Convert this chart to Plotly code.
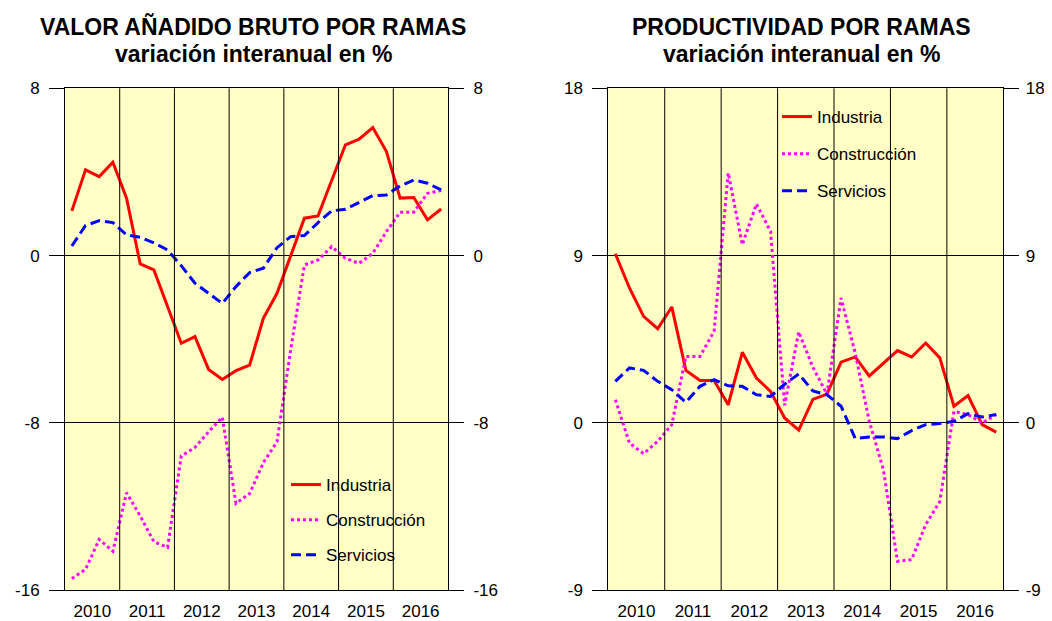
import plotly.graph_objects as go

years = [2010, 2011, 2012, 2013, 2014, 2015, 2016]
quarters = [f"{y}-T{q}" for y in years for q in range(1, 5)]

# Valor añadido bruto por ramas (variación interanual %)
vab_industria = [2.14, 4.1, 3.78, 4.47, 2.75, -0.4, -0.68, -2.44, -4.19, -3.87, -5.44, -5.92, -5.5, -5.23,
                 -3.0, -1.8, 0.0, 1.79, 1.9, 3.6, 5.3, 5.57, 6.12, 4.98, 2.75, 2.78, 1.71, 2.23]
vab_construccion = [-15.44, -15.0, -13.57, -14.13, -11.34, -12.45, -13.68, -13.95, -9.58, -9.17, -8.42, -7.73,
                    -11.85, -11.37, -9.9, -8.9, -4.5, -0.45, -0.21, 0.43, -0.13, -0.37, 0.11, 1.15, 2.08, 2.08,
                    2.98, 3.11]
vab_servicios = [0.46, 1.44, 1.67, 1.58, 0.99, 0.88, 0.61, 0.27, -0.48, -1.32, -1.8, -2.28, -1.48, -0.81,
                 -0.6, 0.38, 0.91, 0.96, 1.58, 2.14, 2.22, 2.54, 2.87, 2.9, 3.33, 3.62, 3.46, 3.14]

# Productividad por ramas (variación interanual %)
prod_industria = [9.1, 7.26, 5.73, 5.07, 6.24, 2.83, 2.29, 2.29, 0.98, 3.8, 2.42, 1.7, 0.27, -0.38,
                  1.27, 1.55, 3.27, 3.55, 2.53, 3.23, 3.89, 3.55, 4.3, 3.5, 0.9, 1.47, -0.09, -0.49]
prod_construccion = [1.25, -1.08, -1.65, -0.99, -0.09, 3.58, 3.58, 4.93, 13.45, 9.59, 11.78, 10.31, 0.95,
                     4.9, 3.0, 1.55, 6.72, 3.77, 0.09, -2.51, -7.44, -7.35, -5.47, -4.22, 0.62, 0.45, 0.0, 0.45]
prod_servicios = [2.24, 2.96, 2.83, 2.24, 1.79, 1.11, 1.97, 2.33, 2.0, 1.97, 1.52, 1.43, 2.08, 2.64,
                  1.72, 1.52, 0.9, -0.83, -0.75, -0.75, -0.84, -0.41, -0.09, -0.03, 0.09, 0.5, 0.32, 0.45]

series_names = ["Industria", "Construcción", "Servicios"]
series_colors = ["#FF0000", "#FF00FF", "#0000FF"]
series_dash = ["solid", "3px,3px", "10px,5px"]

left_ticks = [-16, -8, 0, 8]
right_ticks = [-9, 0, 9, 18]

FONT = "Liberation Sans, Arial, sans-serif"
x = list(range(len(quarters)))

# page offset (browser body margin) compensation
OX, OY = 8, 8
W, H = 1052 - OX, 621 - OY


def px(v):
    return (v - OX) / W


def py(v):
    return 1 - (v - OY) / H


fig = go.Figure()

for vals, name, col, dash, i in zip([vab_industria, vab_construccion, vab_servicios],
                                    series_names, series_colors, series_dash, range(3)):
    fig.add_trace(go.Scatter(x=x, y=vals, name=name, mode="lines", xaxis="x", yaxis="y",
                             line=dict(color=col, width=3, dash=dash), legend="legend",
                             legendgroup=f"l{i}", hovertext=quarters))
for vals, name, col, dash, i in zip([prod_industria, prod_construccion, prod_servicios],
                                    series_names, series_colors, series_dash, range(3)):
    fig.add_trace(go.Scatter(x=x, y=vals, name=name, mode="lines", xaxis="x2", yaxis="y3",
                             line=dict(color=col, width=3, dash=dash), legend="legend2",
                             legendgroup=f"r{i}", hovertext=quarters))

# empty traces so that the right-hand mirror axes are drawn
for xa, ya in [("x", "y2"), ("x2", "y4")]:
    fig.add_trace(go.Scatter(x=[], y=[], xaxis=xa, yaxis=ya, showlegend=False, hoverinfo="skip"))

ytop = py(88.3)
ybot = py(590.3)
dom_left = [px(65), px(448)]
dom_right = [px(608.3), px(1003.3)]

tickfont = dict(family=FONT, size=17, color="black")
label_pos = [4 * i + 1.5 for i in range(len(years))]


def xax(dom, anchor):
    return dict(domain=dom, anchor=anchor, range=[-0.5, len(quarters) - 0.5], tickmode="array",
                tickvals=label_pos, ticktext=[str(y) for y in years], ticks="", showgrid=False,
                zeroline=False, showline=True, mirror=True, linecolor="black", linewidth=1,
                tickfont=tickfont, ticklabelstandoff=5, automargin=False, fixedrange=True)


def yax(rng, tv, anchor, side="left", overlay=None, grid=True, standoff=6):
    d = dict(domain=[ybot, ytop], anchor=anchor, range=rng, tickmode="array", tickvals=tv,
             ticktext=[str(v) for v in tv], ticks="outside", ticklen=15, tickwidth=1, tickcolor="black",
             showgrid=grid, gridcolor="black", gridwidth=1, zeroline=False, side=side,
             showline=True, linecolor="black", linewidth=1, tickfont=tickfont,
             ticklabelstandoff=standoff, automargin=False, fixedrange=True)
    if overlay:
        d["overlaying"] = overlay
    return d


fig.update_layout(
    width=W, height=H, autosize=False,
    margin=dict(l=0, r=0, t=0, b=0),
    paper_bgcolor="white", plot_bgcolor="#FFFFC6",
    font=dict(family=FONT, color="black"),
    xaxis=xax(dom_left, "y"),
    yaxis=yax([left_ticks[0], left_ticks[-1]], left_ticks, "x"),
    yaxis2=yax([left_ticks[0], left_ticks[-1]], left_ticks, "x", side="right", overlay="y", grid=False),
    xaxis2=xax(dom_right, "y3"),
    yaxis3=yax([right_ticks[0], right_ticks[-1]], right_ticks, "x2"),
    yaxis4=yax([right_ticks[0], right_ticks[-1]], right_ticks, "x2", side="right", overlay="y3",
               grid=False, standoff=3),
    legend=dict(x=px(286), y=py(467), xanchor="left", yanchor="top", bgcolor="rgba(0,0,0,0)",
                font=dict(family=FONT, size=17, color="black"), tracegroupgap=10, traceorder="grouped"),
    legend2=dict(x=px(777), y=py(99), xanchor="left", yanchor="top", bgcolor="rgba(0,0,0,0)",
                 font=dict(family=FONT, size=17, color="black"), tracegroupgap=12, traceorder="grouped"),
    showlegend=True,
)

# year separators
for b in [4 * i - 0.5 for i in range(1, len(years))]:
    for xr, yr in [("x", "y domain"), ("x2", "y3 domain")]:
        fig.add_shape(type="line", xref=xr, yref=yr, x0=b, x1=b, y0=0, y1=1,
                      line=dict(color="black", width=1), layer="above")

titles = [("VALOR AÑADIDO BRUTO POR RAMAS", 253), ("PRODUCTIVIDAD POR RAMAS", 801)]
for t, xc in titles:
    fig.add_annotation(text=f"<b>{t}</b>", x=px(xc), y=py(27), xref="paper", yref="paper",
                       showarrow=False, xanchor="center", yanchor="middle",
                       font=dict(family=FONT, size=23, color="black"))
    fig.add_annotation(text="<b>variación interanual en %</b>", x=px(xc), y=py(54), xref="paper",
                       yref="paper", showarrow=False, xanchor="center", yanchor="middle",
                       font=dict(family=FONT, size=23, color="black"))

fig.write_html("out.html")
